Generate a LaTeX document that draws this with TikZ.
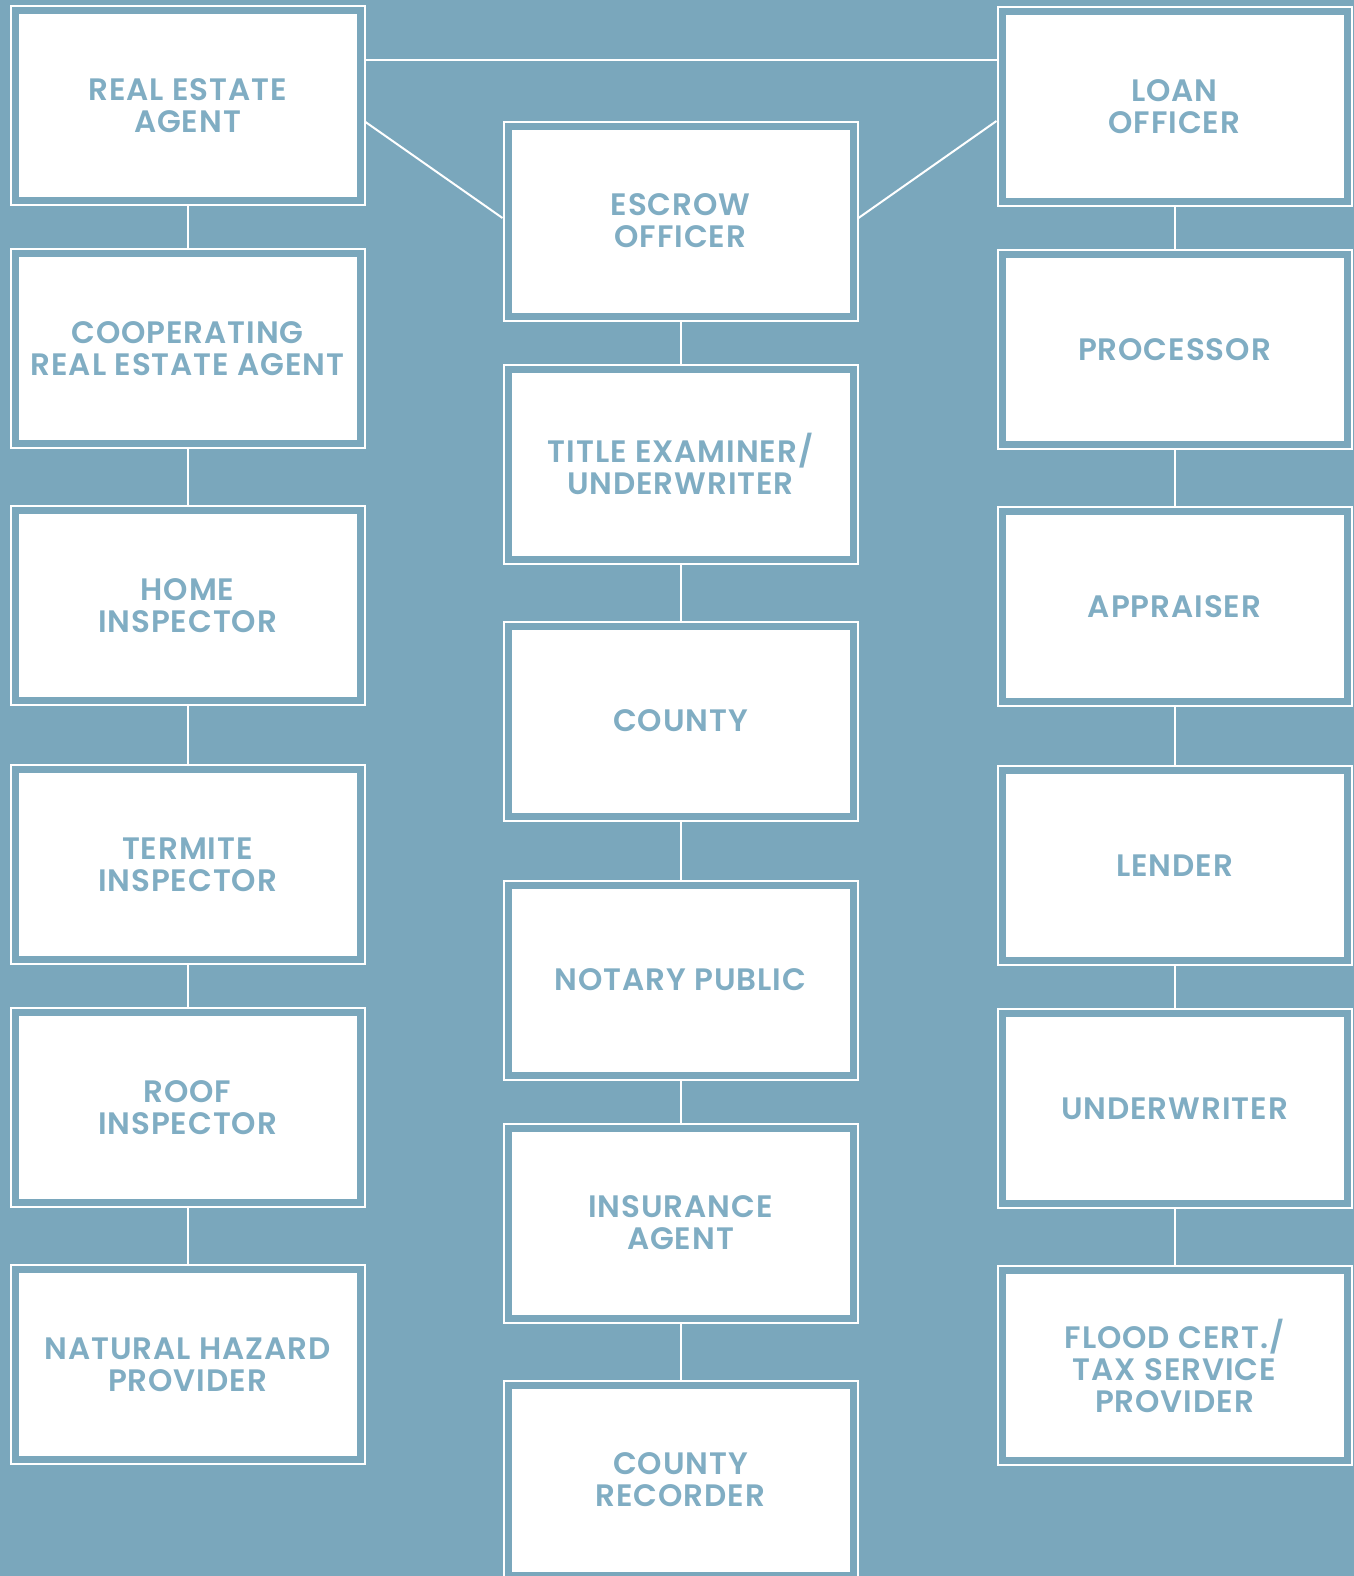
\documentclass[tikz,border=0pt]{standalone}
\usepackage{fontspec}
\setmainfont{Poppins}[BoldFont={Poppins SemiBold}, LetterSpace=3]
\usetikzlibrary{positioning, calc}
\definecolor{bluebg}{HTML}{7AA7BC}
\definecolor{bluetext}{HTML}{80ADC3}
\tikzstyle{block} = [rectangle, draw=white, line width=1pt, double=bluebg, double distance=3.5pt, fill=white, minimum width=172.5pt, minimum height=95pt, outer sep=2.75pt, inner sep=0pt, align=center, text=bluetext, font=\bfseries\fontsize{15.5pt}{16pt}\selectfont]
\tikzstyle{link} = [draw=white, line width=1pt]
\begin{document}
\begin{tikzpicture}
		\fill [bluebg] (0,0) rectangle (677pt,-788pt);
		\useasboundingbox (0,0) rectangle (677pt,-788pt);
		% left column
		\node (RealEstateAgent) [block] at (93.75pt,-52.75pt) {REAL ESTATE\\AGENT};
		\node (CoopAgent) [block, below = 21pt of RealEstateAgent] {COOPERATING\\REAL ESTATE AGENT};
		\node (HomeInspector) [block, below = 28pt of CoopAgent] {HOME\\INSPECTOR};
		\node (TermiteInspector) [block, below = 29pt of HomeInspector] {TERMITE\\INSPECTOR};
		\node (RoofInspector) [block, below = 21pt of TermiteInspector] {ROOF\\INSPECTOR};
		\node (HazardProvider) [block, below = 28pt of RoofInspector] {NATURAL HAZARD\\PROVIDER};
		% middle column
		\node (EscrowOfficer) [block] at (340.25pt,-110.5pt) {ESCROW\\OFFICER};
		\node (TitleExaminer) [block, below = 21pt of EscrowOfficer] {TITLE EXAMINER/\\UNDERWRITER};
		\node (County) [block, below = 28pt of TitleExaminer] {COUNTY};
		\node (NotaryPublic) [block, below = 29pt of County] {NOTARY PUBLIC};
		\node (InsuranceAgent) [block, below = 21pt of NotaryPublic] {INSURANCE\\AGENT};
		\node (CountyRecorder) [block, below = 28pt of InsuranceAgent] {COUNTY\\RECORDER};
		% right column
		\node (LoanOfficer) [block] at (587.25pt,-53.25pt) {LOAN\\OFFICER};
		\node (Processor) [block, below = 21pt of LoanOfficer] {PROCESSOR};
		\node (Appraiser) [block, below = 28pt of Processor] {APPRAISER};
		\node (Lender) [block, below = 29pt of Appraiser] {LENDER};
		\node (Underwriter) [block, below = 21pt of Lender] {UNDERWRITER};
		\node (FloodCert) [block, below = 28pt of Underwriter] {FLOOD CERT./\\TAX SERVICE\\PROVIDER};
		% top links
		\draw [link] ([yshift=-27.5pt]RealEstateAgent.north east) -- ([yshift=-27.5pt]RealEstateAgent.north east -| LoanOfficer.west);
		\draw [link] ([yshift=-58.5pt]RealEstateAgent.north east) -- ([yshift=1.5pt]EscrowOfficer.west);
		\draw [link] ([yshift=1.5pt]EscrowOfficer.east) -- ([yshift=-57.5pt]LoanOfficer.north west);
		% column links
		\draw [link] (RealEstateAgent) -- (CoopAgent);
		\draw [link] (CoopAgent) -- (HomeInspector);
		\draw [link] (HomeInspector) -- (TermiteInspector);
		\draw [link] (TermiteInspector) -- (RoofInspector);
		\draw [link] (RoofInspector) -- (HazardProvider);
		\draw [link] (EscrowOfficer) -- (TitleExaminer);
		\draw [link] (TitleExaminer) -- (County);
		\draw [link] (County) -- (NotaryPublic);
		\draw [link] (NotaryPublic) -- (InsuranceAgent);
		\draw [link] (InsuranceAgent) -- (CountyRecorder);
		\draw [link] (LoanOfficer) -- (Processor);
		\draw [link] (Processor) -- (Appraiser);
		\draw [link] (Appraiser) -- (Lender);
		\draw [link] (Lender) -- (Underwriter);
		\draw [link] (Underwriter) -- (FloodCert);
\end{tikzpicture}
\end{document}
